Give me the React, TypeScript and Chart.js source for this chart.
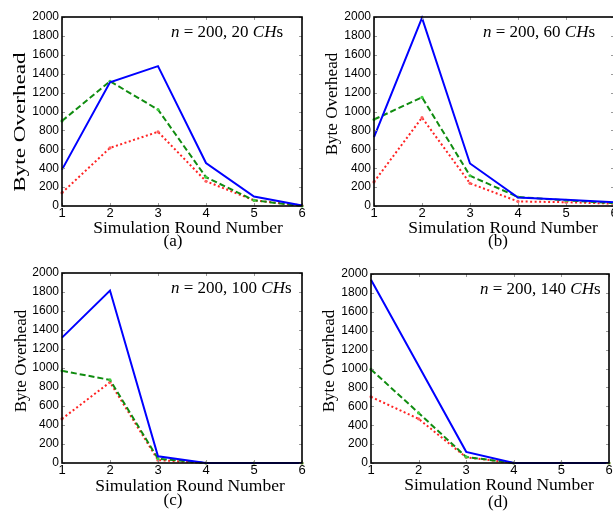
import React, { useEffect, useRef } from "react";
import { Chart, registerables } from "chart.js";

Chart.register(...registerables);

// ---- data ----
const rounds = ["1", "2", "3", "4", "5", "6"];
const yTicks = [0, 200, 400, 600, 800, 1000, 1200, 1400, 1600, 1800, 2000];
const nodes = 200;
const chCounts = [20, 60, 100, 140];
const panelLabels = ["(a)", "(b)", "(c)", "(d)"];

const blueA = [385, 1310, 1480, 455, 100, 5];
const greenA = [900, 1320, 1020, 305, 60, 0];
const redA = [140, 615, 785, 262, 60, 5];

const blueB = [730, 1990, 450, 90, 65, 40];
const greenB = [915, 1150, 320, 95, 60, 30];
const redB = [255, 935, 240, 48, 40, 25];

const blueC = [1320, 1815, 70, 0, 0, 0];
const greenC = [970, 875, 45, 0, 0, 0];
const redC = [465, 850, 30, 0, 0, 0];

const blueD = [1940, 1030, 118, 0, 0, 0];
const greenD = [990, 530, 64, 0, 0, 0];
const redD = [700, 467, 60, 0, 0, 0];

const seriesByPanel = [
  [blueA, greenA, redA],
  [blueB, greenB, redB],
  [blueC, greenC, redC],
  [blueD, greenD, redD],
];

// ---- layout (positions only) ----
const layouts = [
  { x: 0, y: 0, w: 306, h: 256, left: 62, right: 302, top: 17, bottom: 206, yt: [21, 122, 1.36], xt: [188, 228], lb: [173, 242] },
  { x: 306, y: 0, w: 320, h: 256, left: 68, right: 308, top: 17, bottom: 206, yt: [27, 104, 1], xt: [197, 228], lb: [192, 242] },
  { x: 0, y: 256, w: 306, h: 256, left: 62, right: 302, top: 17, bottom: 207, yt: [22, 105, 1], xt: [190, 230], lb: [173, 245] },
  { x: 306, y: 256, w: 307, h: 256, left: 65, right: 303, top: 18, bottom: 207, yt: [24, 105, 1], xt: [193, 229], lb: [192, 247] },
];

const SERIF = "'Liberation Serif', 'Times New Roman', serif";
const SANS = "'Liberation Sans', Arial, sans-serif";

function Panel({ idx }: { idx: number }) {
  const ref = useRef<HTMLCanvasElement>(null);
  const L = layouts[idx];
  useEffect(() => {
    const [blue, green, red] = seriesByPanel[idx];
    const decor = {
      id: "decor" + idx,
      afterDraw(chart: any) {
        const ctx = chart.ctx as CanvasRenderingContext2D;
        const a = chart.chartArea;
        const xs = chart.scales.x;
        const ys = chart.scales.y;
        ctx.save();
        // small inward ticks
        ctx.strokeStyle = "#9a9a9a";
        ctx.lineWidth = 1;
        ctx.beginPath();
        yTicks.forEach((v) => {
          const py = Math.round(ys.getPixelForValue(v)) + 0.5;
          ctx.moveTo(a.left, py);
          ctx.lineTo(a.left + 3, py);
          ctx.moveTo(a.right, py);
          ctx.lineTo(a.right - 3, py);
        });
        rounds.forEach((_, i) => {
          const px = Math.round(xs.getPixelForValue(i)) + 0.5;
          ctx.moveTo(px, a.bottom);
          ctx.lineTo(px, a.bottom - 3);
          ctx.moveTo(px, a.top);
          ctx.lineTo(px, a.top + 3);
        });
        ctx.stroke();
        // frame
        ctx.strokeStyle = "#000";
        ctx.lineWidth = 1.6;
        ctx.strokeRect(a.left, a.top, a.right - a.left, a.bottom - a.top);
        // annotation
        ctx.fillStyle = "#000";
        ctx.textBaseline = "alphabetic";
        ctx.textAlign = "left";
        const parts: [string, boolean][] = [
          ["n", true],
          [" = " + nodes + ", " + chCounts[idx] + " ", false],
          ["CH", true],
          ["s", false],
        ];
        let tx = a.left + 109;
        const ty = a.top + 20;
        parts.forEach(([t, it]) => {
          ctx.font = (it ? "italic " : "") + "17px " + SERIF;
          ctx.fillText(t, tx, ty);
          tx += ctx.measureText(t).width;
        });
        // y title
        ctx.save();
        ctx.translate(L.yt[0], L.yt[1]);
        ctx.rotate(-Math.PI / 2);
        ctx.scale(L.yt[2], 1);
        ctx.font = "17px " + SERIF;
        ctx.textAlign = "center";
        ctx.textBaseline = "middle";
        ctx.fillText("Byte Overhead", 0, 0);
        ctx.restore();
        // x title
        ctx.font = "17.5px " + SERIF;
        ctx.textAlign = "center";
        ctx.textBaseline = "middle";
        ctx.fillText("Simulation Round Number", L.xt[0], L.xt[1]);
        // panel label
        ctx.font = "17px " + SERIF;
        ctx.fillText(panelLabels[idx], L.lb[0], L.lb[1]);
        ctx.restore();
      },
    };
    const chart = new Chart(ref.current!, {
      type: "line",
      data: {
        labels: rounds,
        datasets: [
          {
            data: blue,
            borderColor: "#0000ff",
            borderWidth: 2,
            pointRadius: 0,
            tension: 0,
            clip: 4,
          },
          {
            data: green,
            borderColor: "#108c10",
            borderWidth: 2,
            borderDash: [6, 3],
            pointRadius: 1.6,
            pointBackgroundColor: "#40d040",
            pointBorderColor: "#40d040",
            pointBorderWidth: 0,
            tension: 0,
            clip: 4,
          },
          {
            data: red,
            borderColor: "#ff2222",
            borderWidth: 2,
            borderDash: [2, 2.5],
            pointRadius: 1.6,
            pointBackgroundColor: "#ff6060",
            pointBorderColor: "#ff6060",
            pointBorderWidth: 0,
            tension: 0,
            clip: 4,
          },
        ],
      },
      options: {
        responsive: false,
        animation: false,
        layout: { padding: { left: 0, right: L.w - L.right, top: L.top, bottom: 0 } },
        plugins: { legend: { display: false }, tooltip: { enabled: false } },
        scales: {
          x: {
            type: "category",
            offset: false,
            grid: { display: false, drawTicks: false },
            border: { display: false },
            ticks: { color: "#000", font: { family: SANS, size: 13 }, padding: 0, maxRotation: 0, autoSkip: false },
            afterFit: (s: any) => {
              s.height = L.h - L.bottom;
            },
          },
          y: {
            min: 0,
            max: 2000,
            grid: { display: false, drawTicks: false },
            border: { display: false },
            ticks: {
              stepSize: 200,
              color: "#000",
              font: { family: SANS, size: 12 },
              padding: 3,
              callback: (v: any) => String(v),
            },
            afterFit: (s: any) => {
              s.width = L.left;
            },
          },
        },
      },
      plugins: [decor],
    });
    return () => chart.destroy();
  }, [idx]);
  return (
    <canvas
      ref={ref}
      width={L.w}
      height={L.h}
      style={{ position: "absolute", left: L.x, top: L.y, width: L.w, height: L.h }}
    />
  );
}

export default function App() {
  return (
    <div
      style={{
        position: "absolute",
        left: 0,
        top: 0,
        width: 613,
        height: 512,
        overflow: "hidden",
        background: "#fff",
      }}
    >
      {[0, 1, 2, 3].map((i) => (
        <Panel key={i} idx={i} />
      ))}
    </div>
  );
}
